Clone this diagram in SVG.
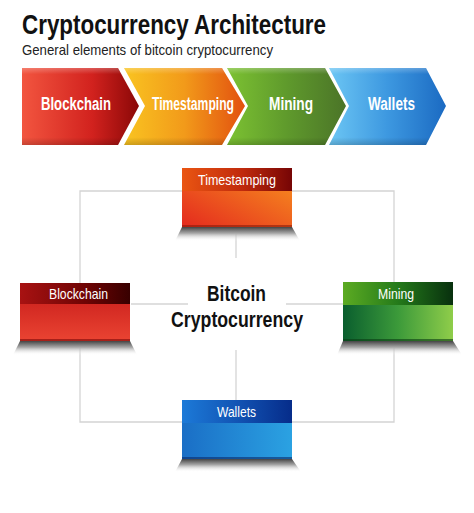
<svg xmlns="http://www.w3.org/2000/svg" width="474" height="513" viewBox="0 0 474 513">
<defs>
<style>
.title{font-family:"Liberation Sans",Arial,sans-serif;font-weight:bold;font-size:27.5px;fill:#111}
.sub{font-family:"Liberation Sans",Arial,sans-serif;font-size:15px;fill:#222}
.chev{font-family:"Liberation Sans",Arial,sans-serif;font-weight:bold;font-size:17.5px;fill:#fff}
.hdr{font-family:"Liberation Sans",Arial,sans-serif;font-size:15px;fill:#fff}
.ctr{font-family:"Liberation Sans",Arial,sans-serif;font-weight:bold;font-size:21.5px;fill:#111}
.conn{stroke:#d4d4d4;stroke-width:1.3;fill:none}
</style>
<linearGradient id="cRed" x1="0" y1="0" x2="1" y2="0"><stop offset="0" stop-color="#f2553f"/><stop offset="0.6" stop-color="#d2221e"/><stop offset="1" stop-color="#8a0707"/></linearGradient>
<linearGradient id="cOrg" x1="0" y1="0" x2="1" y2="0"><stop offset="0" stop-color="#f9c421"/><stop offset="0.5" stop-color="#f29a1a"/><stop offset="1" stop-color="#e2500f"/></linearGradient>
<linearGradient id="cGrn" x1="0" y1="0" x2="1" y2="0"><stop offset="0" stop-color="#7cc232"/><stop offset="0.5" stop-color="#5f9a2c"/><stop offset="1" stop-color="#4b7428"/></linearGradient>
<linearGradient id="cBlu" x1="0" y1="0" x2="1" y2="0"><stop offset="0" stop-color="#6cc6f4"/><stop offset="0.5" stop-color="#3d98e0"/><stop offset="1" stop-color="#1b6ac2"/></linearGradient>
<linearGradient id="bevel" x1="0" y1="0" x2="0" y2="1"><stop offset="0" stop-color="#fff" stop-opacity="0.25"/><stop offset="0.08" stop-color="#fff" stop-opacity="0"/><stop offset="0.9" stop-color="#000" stop-opacity="0"/><stop offset="1" stop-color="#000" stop-opacity="0.18"/></linearGradient>
<linearGradient id="shadow" x1="0" y1="0" x2="0" y2="1"><stop offset="0" stop-color="#444"/><stop offset="0.45" stop-color="#a8a8a8"/><stop offset="1" stop-color="#fff" stop-opacity="0"/></linearGradient>
<linearGradient id="hTime" x1="0" y1="0" x2="1" y2="0"><stop offset="0" stop-color="#ea5512"/><stop offset="0.55" stop-color="#c02a0c"/><stop offset="1" stop-color="#760505"/></linearGradient>
<linearGradient id="bTime" x1="0" y1="1" x2="1" y2="0"><stop offset="0" stop-color="#e42a1e"/><stop offset="1" stop-color="#f8941f"/></linearGradient>
<linearGradient id="hBlock" x1="0" y1="0" x2="1" y2="0"><stop offset="0" stop-color="#a81212"/><stop offset="0.6" stop-color="#6e0404"/><stop offset="1" stop-color="#380000"/></linearGradient>
<linearGradient id="bBlock" x1="0" y1="0" x2="0" y2="1"><stop offset="0" stop-color="#c41818"/><stop offset="1" stop-color="#ea4432"/></linearGradient>
<linearGradient id="hMine" x1="0" y1="0" x2="1" y2="0"><stop offset="0" stop-color="#5cab22"/><stop offset="0.5" stop-color="#247a1a"/><stop offset="1" stop-color="#08300e"/></linearGradient>
<linearGradient id="bMine" x1="0" y1="0" x2="1" y2="0"><stop offset="0" stop-color="#0a5e2e"/><stop offset="0.5" stop-color="#3c9a3a"/><stop offset="1" stop-color="#8fcd4a"/></linearGradient>
<linearGradient id="hWal" x1="0" y1="0" x2="1" y2="0"><stop offset="0" stop-color="#1c7ad8"/><stop offset="0.5" stop-color="#1254b4"/><stop offset="1" stop-color="#062c8a"/></linearGradient>
<linearGradient id="bWal" x1="0" y1="0" x2="1" y2="0"><stop offset="0" stop-color="#1a6ec6"/><stop offset="1" stop-color="#2ba2e2"/></linearGradient>
</defs>
<rect width="474" height="513" fill="#fff"/>

<text class="title" x="22" y="34" textLength="304" lengthAdjust="spacingAndGlyphs">Cryptocurrency Architecture</text>
<text class="sub" x="22" y="55" textLength="251" lengthAdjust="spacingAndGlyphs">General elements of bitcoin cryptocurrency</text>

<g id="chevron-blockchain">
<polygon points="22,68 118,68 139,106 118,145 22,145" fill="url(#cRed)"/>
<polygon points="22,68 118,68 139,106 118,145 22,145" fill="url(#bevel)"/>
<text class="chev" x="41" y="110" textLength="70" lengthAdjust="spacingAndGlyphs">Blockchain</text>
</g>
<g id="chevron-timestamping">
<polygon points="124,68 222,68 245,106 222,145 124,145 145,106" fill="url(#cOrg)"/>
<polygon points="124,68 222,68 245,106 222,145 124,145 145,106" fill="url(#bevel)"/>
<text class="chev" x="152" y="110" textLength="82" lengthAdjust="spacingAndGlyphs">Timestamping</text>
</g>
<g id="chevron-mining">
<polygon points="227,68 325,68 346,106 325,145 227,145 248,106" fill="url(#cGrn)"/>
<polygon points="227,68 325,68 346,106 325,145 227,145 248,106" fill="url(#bevel)"/>
<text class="chev" x="269" y="110" textLength="44" lengthAdjust="spacingAndGlyphs">Mining</text>
</g>
<g id="chevron-wallets">
<polygon points="329,68 426,68 446,106 426,145 329,145 349,106" fill="url(#cBlu)"/>
<polygon points="329,68 426,68 446,106 426,145 329,145 349,106" fill="url(#bevel)"/>
<text class="chev" x="368" y="110" textLength="47" lengthAdjust="spacingAndGlyphs">Wallets</text>
</g>

<g id="connectors">
<polyline class="conn" points="182,191 80,191 80,422 182,422"/>
<polyline class="conn" points="292,191 394,191 394,422 292,422"/>
<line class="conn" x1="131" y1="304" x2="188" y2="304"/>
<line class="conn" x1="286" y1="304" x2="343" y2="304"/>
<line class="conn" x1="236" y1="227" x2="236" y2="258"/>
<line class="conn" x1="236" y1="350" x2="236" y2="400"/>
</g>

<g id="node-timestamping">
<polygon points="182,227 292,227 300,241 175,241" fill="url(#shadow)"/>
<rect x="182" y="168" width="110" height="59" fill="url(#bTime)"/>
<rect x="182" y="168" width="110" height="23" fill="url(#hTime)"/>
<rect x="182" y="225" width="110" height="2" fill="#8a1a0a" opacity="0.6"/>
<text class="hdr" x="198" y="185" textLength="78" lengthAdjust="spacingAndGlyphs">Timestamping</text>
</g>

<g id="node-blockchain">
<polygon points="20,341 130,341 137,355 13,355" fill="url(#shadow)"/>
<rect x="20" y="283" width="110" height="58" fill="url(#bBlock)"/>
<rect x="20" y="283" width="110" height="21" fill="url(#hBlock)"/>
<rect x="20" y="339" width="110" height="2" fill="#7a0a0a" opacity="0.6"/>
<text class="hdr" x="49" y="298.5" textLength="59" lengthAdjust="spacingAndGlyphs">Blockchain</text>
</g>

<g id="node-mining">
<polygon points="343,341 453,341 462,355 337,355" fill="url(#shadow)"/>
<rect x="343" y="282" width="110" height="59" fill="url(#bMine)"/>
<rect x="343" y="282" width="110" height="23" fill="url(#hMine)"/>
<rect x="343" y="339" width="110" height="2" fill="#0a3a14" opacity="0.6"/>
<text class="hdr" x="378" y="299" textLength="36" lengthAdjust="spacingAndGlyphs">Mining</text>
</g>

<g id="node-wallets">
<polygon points="182,459 292,459 301,472 175,472" fill="url(#shadow)"/>
<rect x="182" y="400" width="110" height="59" fill="url(#bWal)"/>
<rect x="182" y="400" width="110" height="23" fill="url(#hWal)"/>
<rect x="182" y="457" width="110" height="2" fill="#0a2a6a" opacity="0.6"/>
<text class="hdr" x="217" y="417" textLength="39" lengthAdjust="spacingAndGlyphs">Wallets</text>
</g>

<g id="node-center">
<text class="ctr" x="207" y="301" textLength="59" lengthAdjust="spacingAndGlyphs">Bitcoin</text>
<text class="ctr" x="171" y="327" textLength="132" lengthAdjust="spacingAndGlyphs">Cryptocurrency</text>
</g>
</svg>
